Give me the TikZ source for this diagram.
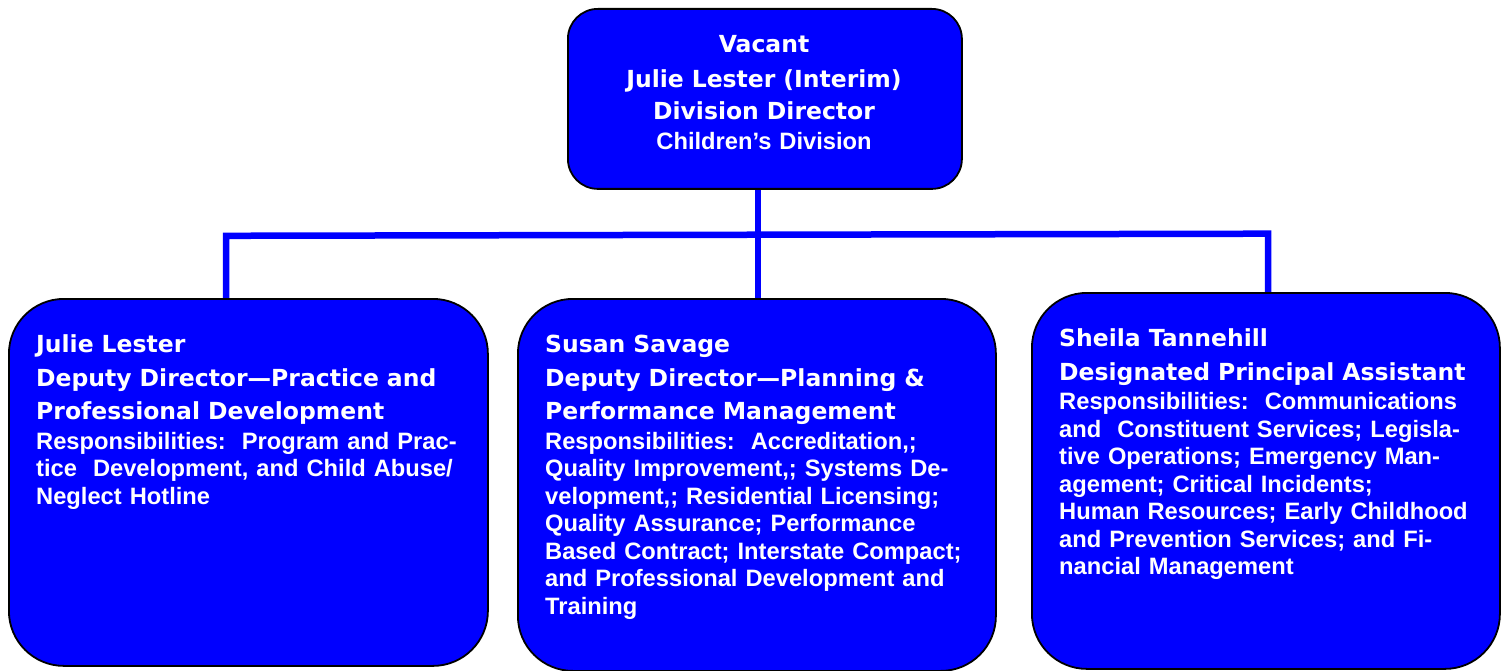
\documentclass[tikz,border=0pt]{standalone}
\usepackage{fontspec}
\setmainfont{Liberation Sans}[WordSpace={1,0,0}]
\newfontfamily\orgdejavu{DejaVu Sans}[WordSpace={1.35,0,0}]
\usetikzlibrary{backgrounds}
\newcommand\orgtitle{\orgdejavu\fontsize{23.5}{27.5}\selectfont\bfseries}
\newcommand\orgbody{\rmfamily\fontsize{23.7}{27.5}\selectfont\bfseries}
\begin{document}
\frenchspacing
\begin{tikzpicture}[x=1pt,y=-1pt,
  orgbox/.style={draw=black, line width=1.8pt, fill=blue, inner sep=0pt, anchor=north west},
  boxtext/.style={text=white, inner sep=0pt, anchor=north west, align=left, text width=470pt,
    font=\fontsize{24}{27.5}\selectfont},
  conn/.style={draw=blue, line width=6.5pt, line join=miter}]
\useasboundingbox (0,0) rectangle (1507,671);

% boxes
\node[orgbox, rounded corners=30pt, minimum width=394pt, minimum height=180pt] (Top) at (567,8) {};
\node[orgbox, rounded corners=55pt, minimum width=479pt, minimum height=367pt] (L) at (8,298) {};
\node[orgbox, rounded corners=55pt, minimum width=478pt, minimum height=372pt] (Mid) at (517,298) {};
\node[orgbox, rounded corners=55pt, minimum width=468pt, minimum height=376pt] (R) at (1031,292) {};

% texts
\node[text=white, inner sep=0pt, anchor=north, align=center, text width=380pt,
  font=\fontsize{24}{27.5}\selectfont] (Toptext) at (764,32.7)
 {\rule{0pt}{20pt}\orgtitle Vacant\\[7pt]
  Julie Lester (Interim)\\[4.5pt]
  Division Director\\[2.2pt]
  \orgbody Children’s Division};

\node[boxtext] (Ltext) at (36,332.5)
 {\rule{0pt}{20pt}\orgtitle Julie Lester\\[6pt]
  Deputy Director—Practice and\\[6pt]
  Professional Development\\[2pt]
  \orgbody Responsibilities:\ \ Program and Prac-\\
  tice\ \ Development, and Child Abuse/\\
  Neglect Hotline};

\node[boxtext] (Mtext) at (545,332.5)
 {\rule{0pt}{20pt}\orgtitle Susan Savage\\[6pt]
  Deputy Director—Planning \&\\[6pt]
  Performance Management\\[2pt]
  \orgbody Responsibilities:\ \ Accreditation,;\\
  Quality Improvement,; Systems De-\\
  velopment,; Residential Licensing;\\
  Quality Assurance; Performance\\
  Based Contract; Interstate Compact;\\
  and Professional Development and\\
  Training};

\node[boxtext] (Rtext) at (1059,326.5)
 {\rule{0pt}{20pt}\orgtitle Sheila Tannehill\\[6.5pt]
  Designated Principal Assistant\\[1.5pt]
  \orgbody Responsibilities:\ \ Communications\\
  and\ \ Constituent Services; Legisla-\\
  tive Operations; Emergency Man-\\
  agement; Critical Incidents;\\
  Human Resources; Early Childhood\\
  and Prevention Services; and Fi-\\
  nancial Management};

% connectors
\coordinate (jl) at (226,235.8);
\coordinate (jr) at (1268,233.7);
\coordinate (jm) at (758,0);
\begin{scope}[on background layer]
\draw[conn] (L.north -| jl) -- (jl) -- (jr) -- (R.north -| jr);
\draw[conn] (Top.south -| jm) -- (Mid.north -| jm);
\end{scope}
\end{tikzpicture}
\end{document}
